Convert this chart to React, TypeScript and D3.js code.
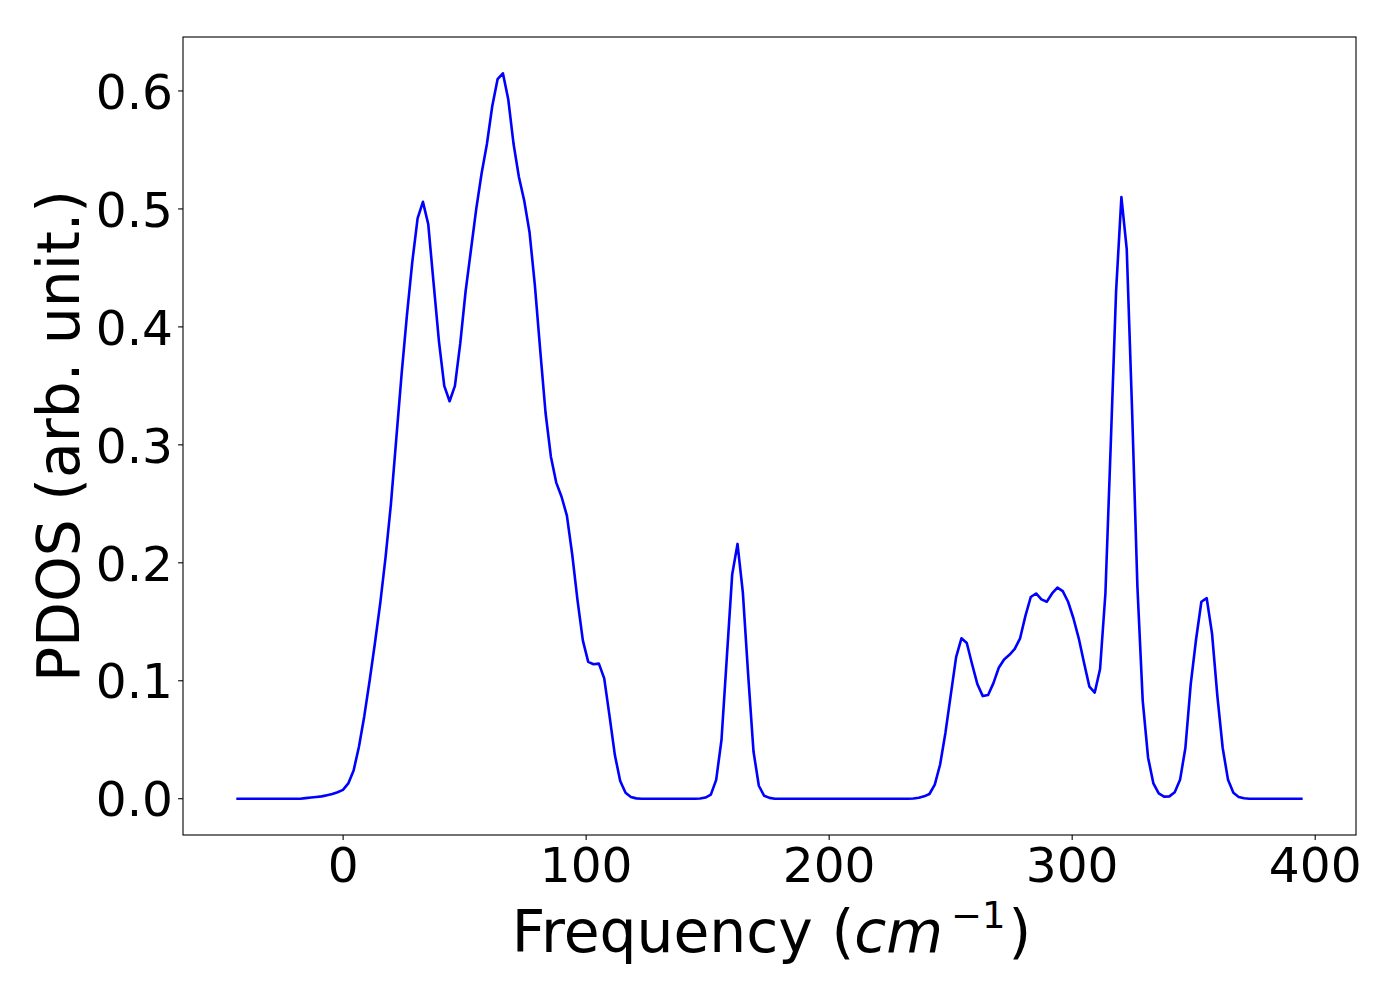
import React from "react";
import * as d3 from "d3";

// Frequency grid (cm^-1): first point and spacing of the sampled PDOS
const freqStart = -43.95;
const freqStep = 2.194;

// PDOS values (arb. unit), one per grid point (201 points)
const pdos: number[] = [
  0, 0, 0, 0, 0, 0, 0, 0, 0, 0,
  0, 0, 0, 0.0005, 0.001, 0.0015, 0.002, 0.003, 0.004, 0.0055,
  0.0075, 0.013, 0.024, 0.044, 0.07, 0.1, 0.132, 0.166, 0.205, 0.25,
  0.305, 0.36, 0.41, 0.455, 0.492, 0.506, 0.487, 0.437, 0.388, 0.35,
  0.337, 0.35, 0.386, 0.43, 0.465, 0.5, 0.53, 0.555, 0.587, 0.61,
  0.615, 0.593, 0.555, 0.527, 0.507, 0.48, 0.435, 0.38, 0.327, 0.29,
  0.268, 0.256, 0.24, 0.207, 0.168, 0.134, 0.116, 0.114, 0.1145, 0.102,
  0.07, 0.037, 0.015, 0.005, 0.0015, 0.0003, 0, 0, 0, 0,
  0, 0, 0, 0, 0, 0, 0, 0.0002, 0.001, 0.0035,
  0.016, 0.05, 0.12, 0.19, 0.216, 0.175, 0.105, 0.04, 0.011, 0.0025,
  0.0007, 0, 0, 0, 0, 0, 0, 0, 0, 0,
  0, 0, 0, 0, 0, 0, 0, 0, 0, 0,
  0, 0, 0, 0, 0, 0, 0, 0.0002, 0.0008, 0.002,
  0.004, 0.012, 0.029, 0.056, 0.088, 0.12, 0.136, 0.132, 0.114, 0.097,
  0.087, 0.088, 0.098, 0.111, 0.118, 0.122, 0.127, 0.136, 0.155, 0.171,
  0.174, 0.169, 0.167, 0.174, 0.179, 0.176, 0.167, 0.153, 0.136, 0.115,
  0.095, 0.09, 0.11, 0.174, 0.3, 0.43, 0.51, 0.466, 0.33, 0.18,
  0.083, 0.035, 0.013, 0.0045, 0.0018, 0.002, 0.0055, 0.016, 0.043, 0.097,
  0.135, 0.167, 0.17, 0.14, 0.087, 0.043, 0.016, 0.005, 0.0015, 0.0004,
  0, 0, 0, 0, 0, 0, 0, 0, 0, 0,
  0,
];

const frequencies: number[] = pdos.map((_, i) => freqStart + i * freqStep);

const xTicks = [0, 100, 200, 300, 400];
const yTicks = [0.0, 0.1, 0.2, 0.3, 0.4, 0.5, 0.6];

const W = 1400;
const H = 1000;
const L = 183;
const R = 1356;
const T = 37;
const B = 835;

export default function App() {
  const xMin = d3.min(frequencies) as number;
  const xMax = d3.max(frequencies) as number;
  const yMin = d3.min(pdos) as number;
  const yMax = d3.max(pdos) as number;
  const xm = (xMax - xMin) * 0.05;
  const ym = (yMax - yMin) * 0.05;

  const x = d3.scaleLinear().domain([xMin - xm, xMax + xm]).range([L, R]);
  const y = d3.scaleLinear().domain([yMin - ym, yMax + ym]).range([B, T]);

  const pts: [number, number][] = pdos.map((v, i) => [frequencies[i], v]);
  const line = d3
    .line<[number, number]>()
    .x((d) => x(d[0]))
    .y((d) => y(d[1]));

  const font = "DejaVu Sans";
  const tickLen = 4.9;
  const tickFont = 48.6;
  const labelFont = 58.3;

  return (
    <svg
      width={W}
      height={H}
      style={{ position: "absolute", left: 0, top: 0, background: "#fff" }}
      fontFamily={font}
    >
      <rect x={0} y={0} width={W} height={H} fill="#fff" />
      <path d={line(pts) || ""} fill="none" stroke="#0000ff" strokeWidth={2.6} strokeLinejoin="round" />
      <rect x={L} y={T} width={R - L} height={B - T} fill="none" stroke="#000" strokeWidth={1.1} />
      {xTicks.map((t) => (
        <g key={"x" + t}>
          <line x1={x(t)} x2={x(t)} y1={B} y2={B + tickLen} stroke="#000" strokeWidth={1.1} />
          <text x={x(t)} y={882} textAnchor="middle" fontSize={tickFont} fill="#000">
            {t}
          </text>
        </g>
      ))}
      {yTicks.map((t) => (
        <g key={"y" + t}>
          <line x1={L - tickLen} x2={L} y1={y(t)} y2={y(t)} stroke="#000" strokeWidth={1.1} />
          <text x={173} y={y(t) + 17.7} textAnchor="end" fontSize={tickFont} fill="#000">
            {t.toFixed(1)}
          </text>
        </g>
      ))}
      <text x={(L + R) / 2 + 2} y={952} textAnchor="middle" fontSize={labelFont} fill="#000">
        <tspan>Frequency (</tspan>
        <tspan fontStyle="italic">cm</tspan>
        <tspan fontSize={37} dy={-24} dx={8}>−1</tspan>
        <tspan dy={24} dx={3}>)</tspan>
      </text>
      <text
        transform={`translate(79, ${(T + B) / 2}) rotate(-90)`}
        textAnchor="middle"
        fontSize={labelFont}
        fill="#000"
      >
        PDOS (arb. unit.)
      </text>
    </svg>
  );
}
